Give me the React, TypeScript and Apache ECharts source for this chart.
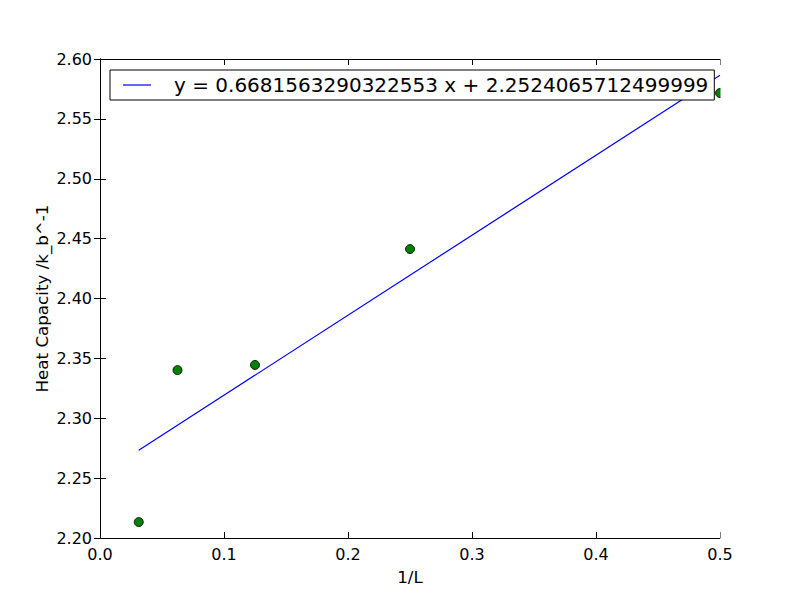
import React, { useEffect, useRef } from "react";
import * as echarts from "echarts";

const xPoints = [0.03125, 0.0625, 0.125, 0.25, 0.5];
const yPoints = [2.2133, 2.3402, 2.3445, 2.4413, 2.5716];
const slope = 0.6681563290322553;
const intercept = 2.2524065712499999;
const fitLabel = "y = 0.6681563290322553 x + 2.2524065712499999";
const fitX = [0.03125, 0.5];

export default function App() {
  const ref = useRef<HTMLDivElement>(null);
  useEffect(() => {
    if (!ref.current) return;
    const chart = echarts.init(ref.current, null, { renderer: "svg" });
    const font = "DejaVu Sans";
    const axisCommon = {
      axisLine: { lineStyle: { color: "#000", width: 1 } },
      axisTick: { inside: true, length: 6, lineStyle: { color: "#000" } },
      splitLine: { show: false },
    };
    chart.setOption({
      animation: false,
      backgroundColor: "#fff",
      textStyle: { fontFamily: font },
      grid: { left: 100, top: 59, width: 620, height: 479, containLabel: false },
      legend: {
        show: true,
        data: [{ name: fitLabel, icon: "rect", itemStyle: { color: "#0000ff" } }],
        left: 110,
        top: 70,
        orient: "horizontal",
        itemWidth: 28,
        itemHeight: 1.2,
        backgroundColor: "#fff",
        borderColor: "#000",
        borderWidth: 1,
        borderRadius: 0,
        padding: [5, 6, 5, 13],
        textStyle: { fontFamily: font, fontSize: 20, color: "#000", padding: [0, 0, 0, 18] },
      },
      xAxis: [
        {
          type: "value",
          min: 0,
          max: 0.5,
          interval: 0.1,
          name: "1/L",
          nameLocation: "middle",
          nameGap: 30,
          nameMoveOverlap: false,
          nameTextStyle: { fontFamily: font, fontSize: 16.7, color: "#000" },
          axisLabel: { color: "#000", fontSize: 16, fontFamily: font, margin: 8, formatter: (v: number) => v.toFixed(1) },
          ...axisCommon,
        },
        {
          type: "value",
          position: "top",
          min: 0,
          max: 0.5,
          interval: 0.1,
          axisLabel: { show: false },
          ...axisCommon,
        },
      ],
      yAxis: [
        {
          type: "value",
          min: 2.2,
          max: 2.6,
          interval: 0.05,
          name: "Heat Capacity /k_b^-1",
          nameLocation: "middle",
          nameGap: 50,
          nameMoveOverlap: false,
          nameTextStyle: { fontFamily: font, fontSize: 16.7, color: "#000" },
          axisLabel: { color: "#000", fontSize: 16, fontFamily: font, margin: 8, formatter: (v: number) => v.toFixed(2) },
          ...axisCommon,
        },
        {
          type: "value",
          position: "right",
          min: 2.2,
          max: 2.6,
          interval: 0.05,
          axisLabel: { show: false },
          ...axisCommon,
        },
      ],
      graphic: [
        { type: "rect", shape: { x: 720.5, y: 0, width: 80, height: 539 }, style: { fill: "#fff" }, z: 3, silent: true },
      ],
      series: [
        {
          name: fitLabel,
          type: "line",
          data: fitX.map((x) => [x, slope * x + intercept]),
          symbol: "none",
          lineStyle: { color: "#0000ff", width: 1.2 },
          itemStyle: { color: "#0000ff" },
          z: 2,
        },
        {
          name: "data",
          type: "scatter",
          data: xPoints.map((x, i) => [x, yPoints[i]]),
          symbol: "circle",
          symbolSize: 9,
          itemStyle: { color: "#008000", borderColor: "#000", borderWidth: 0.8, opacity: 1 },
          z: 2,
        },
      ],
    });
    return () => chart.dispose();
  }, []);
  return <div ref={ref} style={{ width: 800, height: 597, position: "absolute", left: 0, top: 0 }} />;
}
